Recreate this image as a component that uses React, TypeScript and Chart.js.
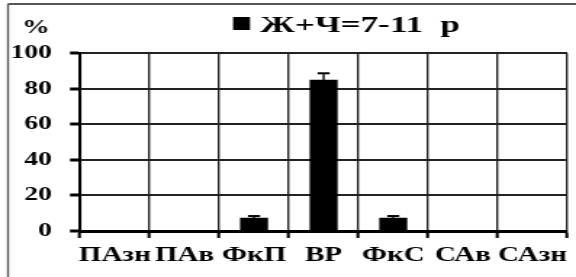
import React, { useEffect, useRef } from "react";
import { Chart, registerables } from "chart.js";

Chart.register(...registerables);

// ---- data ----
const categories = ["ПАзн", "ПАв", "ФкП", "ВР", "ФкС", "САв", "САзн"];
const values = [0, 0, 7.2, 84.8, 7.2, 0, 0];
const errors = [0, 0, 1.2, 3.8, 1.2, 0, 0];
const seriesLabel = "Ж+Ч=7-11  р";
const yTicks = [0, 20, 40, 60, 80, 100];
const yUnit = "%";

// ---- geometry (the original is horizontally stretched) ----
const W = 576;
const H = 277;
const IW = 397;
const S = W / IW;
const sx = (x: number) => x / S;
const FONT = "'Liberation Serif', 'Times New Roman', serif";

const decor = {
  id: "decor",
  afterDatasetsDraw(chart: any) {
    const ctx = chart.ctx;
    const ys = chart.scales.y;
    const meta = chart.getDatasetMeta(0);
    ctx.save();
    ctx.strokeStyle = "#000";
    values.forEach((v, i) => {
      const e = errors[i];
      if (!e) return;
      const x = meta.data[i].x;
      const yt = ys.getPixelForValue(v + e);
      const yb = ys.getPixelForValue(v - e);
      ctx.lineWidth = sx(2);
      ctx.beginPath();
      ctx.moveTo(x, yt);
      ctx.lineTo(x, yb);
      ctx.stroke();
      ctx.lineWidth = 2;
      ctx.beginPath();
      ctx.moveTo(x - sx(6), yt);
      ctx.lineTo(x + sx(6), yt);
      ctx.stroke();
    });
    ctx.restore();
  },
  afterDraw(chart: any) {
    const ctx = chart.ctx;
    ctx.save();
    // outer frame (top and left)
    ctx.strokeStyle = "#555";
    ctx.lineWidth = 2;
    ctx.beginPath();
    ctx.moveTo(sx(8), 4);
    ctx.lineTo(IW, 4);
    ctx.stroke();
    ctx.lineWidth = sx(2);
    ctx.beginPath();
    ctx.moveTo(sx(8), 4);
    ctx.lineTo(sx(8), H);
    ctx.stroke();
    // unit label
    ctx.fillStyle = "#000";
    ctx.font = `bold 19px ${FONT}`;
    ctx.textAlign = "center";
    ctx.textBaseline = "alphabetic";
    ctx.fillText(yUnit, sx(36), 33);
    // legend
    ctx.fillRect(sx(233), 17, sx(17), 13);
    ctx.font = `bold 23px ${FONT}`;
    ctx.textAlign = "left";
    const w = ctx.measureText(seriesLabel).width;
    const k = sx(200) / w;
    ctx.translate(sx(260), 32);
    ctx.scale(k, 1);
    ctx.fillText(seriesLabel, 0, 0);
    ctx.restore();
  },
};

export default function App() {
  const ref = useRef<HTMLCanvasElement>(null);
  useEffect(() => {
    if (!ref.current) return;
    const chart = new Chart(ref.current, {
      type: "bar",
      data: {
        labels: categories,
        datasets: [
          {
            label: seriesLabel,
            data: values,
            backgroundColor: "#000",
            borderWidth: 0,
            barThickness: sx(27),
          },
        ],
      },
      options: {
        animation: false,
        responsive: true,
        maintainAspectRatio: false,
        layout: { padding: { top: 53, right: IW - sx(570), left: 0, bottom: 0 } },
        plugins: { legend: { display: false }, tooltip: { enabled: false } },
        scales: {
          x: {
            grid: {
              color: "#222",
              lineWidth: sx(2),
              tickLength: 7,
              tickWidth: sx(3),
              tickColor: "#000",
              offset: true,
            },
            border: { color: "#000", width: 3 },
            ticks: {
              color: "#000",
              font: { family: FONT, weight: "bold", size: 20 },
              padding: 6,
              maxRotation: 0,
              autoSkip: false,
            },
            afterFit: (s: any) => {
              s.height = H - 231;
            },
          },
          y: {
            min: 0,
            max: 100,
            afterBuildTicks: (s: any) => {
              s.ticks = yTicks.map((v) => ({ value: v }));
            },
            grid: {
              color: "#222",
              lineWidth: 2,
              tickLength: sx(10),
              tickWidth: 3,
              tickColor: "#000",
            },
            border: { color: "#000", width: sx(3) },
            ticks: {
              color: "#000",
              font: { family: FONT, weight: "bold", size: 19 },
              padding: sx(18),
            },
            afterFit: (s: any) => {
              s.width = sx(80);
            },
          },
        },
      },
      plugins: [decor],
    });
    return () => chart.destroy();
  }, []);
  return (
    <div
      style={{
        position: "fixed",
        left: 0,
        top: 0,
        width: W,
        height: H,
        overflow: "hidden",
        background: "#fff",
      }}
    >
      <div
        style={{
          width: IW,
          height: H,
          transform: `scaleX(${S})`,
          transformOrigin: "0 0",
        }}
      >
        <canvas ref={ref} />
      </div>
    </div>
  );
}
